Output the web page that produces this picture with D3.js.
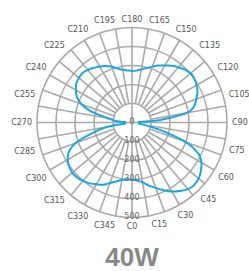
<!DOCTYPE html>
<html>
<head>
<meta charset="utf-8">
<script src="https://cdn.jsdelivr.net/npm/d3@7"></script>
<style>
  html, body { margin: 0; padding: 0; background: #fff; }
  svg { display: block; }
</style>
</head>
<body>
<div id="chart"></div>
<script>
// C-plane angles (degrees) and luminous intensity (cd)
const cAngles = [0, 5, 10, 15, 20, 25, 30, 35, 40, 45, 50, 55, 60, 65, 70, 75, 80, 85,
  90, 95, 100, 105, 110, 115, 120, 125, 130, 135, 140, 145, 150, 155, 160, 165, 170, 175,
  180, 185, 190, 195, 200, 205, 210, 215, 220, 225, 230, 235, 240, 245, 250, 255, 260, 265,
  270, 275, 280, 285, 290, 295, 300, 305, 310, 315, 320, 325, 330, 335, 340, 345, 350, 355];
const intensity = [302, 307, 320, 344, 366, 393, 419, 440, 458, 464, 458, 443, 422, 385, 302, 156, 57, 20,
  0, 150, 297, 340, 360, 380, 393, 401, 403, 393, 380, 365, 346, 331, 313, 297, 284, 274,
  271, 275, 282, 294, 312, 328, 341, 351, 362, 368, 365, 358, 341, 320, 284, 224, 130, 78,
  0, 12, 130, 219, 318, 367, 391, 404, 411, 409, 401, 391, 375, 362, 339, 321, 307, 300];

// labels
const cLabels = [0, 15, 30, 45, 60, 75, 90, 105, 120, 135, 150, 165, 180, 195, 210, 225,
  240, 255, 270, 285, 300, 315, 330, 345];
const rings = [100, 200, 300, 400, 500];
const ringLabels = [0, 100, 200, 300, 400, 500];
const spokeAngles = [0, 10, 20, 30, 40, 50, 60, 70, 80, 90, 100, 110, 120, 130, 140, 150, 160, 170,
  180, 190, 200, 210, 220, 230, 240, 250, 260, 270, 280, 290, 300, 310, 320, 330, 340, 350];
const title = "40W";

let width = 249, height = 271;
let cx = 132, cy = 122.5, R = 95;

let svg = d3.select("#chart").append("svg")
  .attr("width", width)
  .attr("height", height);

let r = d3.scaleLinear().domain([0, 500]).range([0, R]);
// C0 at bottom, C90 at right
let rad = d => d * Math.PI / 180;
let px = (c, v) => cx + v * Math.sin(rad(c));
let py = (c, v) => cy + v * Math.cos(rad(c));

let g = svg.append("g");
let gridColor = "#a9a9a9";

// rings
g.selectAll(".ring")
  .data(rings)
  .enter().append("circle")
  .attr("cx", cx).attr("cy", cy)
  .attr("r", d => r(d))
  .attr("fill", "none")
  .attr("stroke", gridColor)
  .attr("stroke-width", 1.6);

// spokes (main axes go through the centre)
g.selectAll(".spoke")
  .data(spokeAngles)
  .enter().append("line")
  .attr("x1", d => px(d, d % 90 === 0 ? 0 : r(100)))
  .attr("y1", d => py(d, d % 90 === 0 ? 0 : r(100)))
  .attr("x2", d => px(d, R))
  .attr("y2", d => py(d, R))
  .attr("stroke", gridColor)
  .attr("stroke-width", 1.6);

// mask to keep the curve off the very centre
let mask = svg.append("defs").append("mask")
  .attr("id", "hole")
  .attr("maskUnits", "userSpaceOnUse")
  .attr("x", 0).attr("y", 0).attr("width", width).attr("height", height);
mask.append("rect").attr("width", width).attr("height", height).attr("fill", "#fff");
mask.append("circle").attr("cx", cx).attr("cy", cy).attr("r", 6).attr("fill", "#000");

let curveData = cAngles.map((c, i) => [c, intensity[i]]);
let line = d3.lineRadial()
  .angle(d => Math.PI - rad(d[0]))
  .radius(d => r(d[1]))
  .curve(d3.curveCardinalClosed.tension(0.2));

svg.append("g")
  .attr("mask", "url(#hole)")
  .append("path")
  .datum(curveData)
  .attr("transform", `translate(${cx},${cy})`)
  .attr("d", line)
  .attr("fill", "none")
  .attr("stroke", "#1aa7e0")
  .attr("stroke-width", 2);

// intensity labels along C0
svg.selectAll(".rlab")
  .data(ringLabels)
  .enter().append("text")
  .attr("x", cx)
  .attr("y", d => cy + r(d) - 1)
  .attr("text-anchor", "middle")
  .attr("dy", "0.35em")
  .style("font-family", "DejaVu Sans, sans-serif")
  .style("font-size", "8px")
  .style("fill", "#666")
  .text(d => d);

// C labels round the outside
svg.selectAll(".clab")
  .data(cLabels)
  .enter().append("text")
  .attr("text-anchor", "middle")
  .attr("dy", "0.35em")
  .style("font-family", "DejaVu Sans, sans-serif")
  .style("font-size", "8px")
  .style("fill", "#555")
  .text(d => "C" + d)
  .each(function(d) {
    let w = this.getComputedTextLength();
    let s = Math.sin(rad(d)), c = Math.cos(rad(d));
    let dist = R + 5 + Math.abs(s) * w / 2 + Math.abs(c) * 3.5;
    d3.select(this).attr("x", px(d, dist)).attr("y", py(d, dist));
  });

// title
svg.append("text")
  .attr("x", cx)
  .attr("y", 266)
  .attr("text-anchor", "middle")
  .style("font-family", "Liberation Sans, Arial, sans-serif")
  .style("font-weight", "bold")
  .style("font-size", "26px")
  .style("fill", "#888")
  .text(title);
</script>
</body>
</html>
